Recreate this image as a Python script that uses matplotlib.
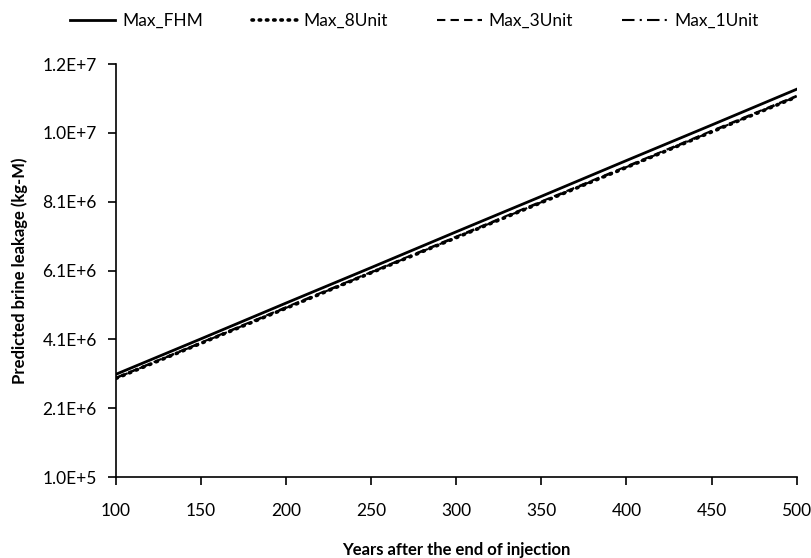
import matplotlib
matplotlib.use('Agg')
import matplotlib.pyplot as plt
import numpy as np
from matplotlib.ticker import FixedLocator, FuncFormatter

plt.rcParams['font.family'] = ['Lato', 'DejaVu Sans']

# 数据
years = [100, 150, 200, 250, 300, 350, 400, 450, 500]
max_fhm = [3.09e6, 4.12e6, 5.16e6, 6.19e6, 7.23e6, 8.26e6, 9.30e6, 10.33e6, 11.37e6]
max_8unit = [2.97e6, 3.99e6, 5.01e6, 6.04e6, 7.06e6, 8.08e6, 9.10e6, 10.13e6, 11.15e6]
max_3unit = [2.99e6, 4.01e6, 5.04e6, 6.06e6, 7.09e6, 8.11e6, 9.13e6, 10.16e6, 11.18e6]
max_1unit = [2.98e6, 4.00e6, 5.02e6, 6.05e6, 7.07e6, 8.09e6, 9.11e6, 10.14e6, 11.16e6]

y_ticks = [1.0e5, 2.1e6, 4.1e6, 6.1e6, 8.1e6, 10.1e6, 12.1e6]
x_ticks = [100, 150, 200, 250, 300, 350, 400, 450, 500]

TICK_FONTSIZE = 12.5
LABEL_FONTSIZE = 12


def sci_fmt(v, pos):
    m, e = f'{v:.1E}'.split('E')
    return f'{m}E+{int(e)}'


fig = plt.figure(figsize=(8.12, 5.58), dpi=100)
ax = fig.add_axes([0.143, 0.145, 0.838, 0.740])

ax.plot(years, max_fhm, color='black', lw=2.0, ls='-', label='Max_FHM')
ax.plot(years, max_8unit, color='black', lw=2.6, ls=(0, (0.4, 1.6)),
        dash_capstyle='round', label='Max_8Unit')
ax.plot(years, max_3unit, color='black', lw=1.5, ls=(0, (4, 2.5)), label='Max_3Unit')
ax.plot(years, max_1unit, color='black', lw=1.5, ls=(0, (6, 2.5, 1, 2.5)), label='Max_1Unit')

ax.set_xlim(100, 500)
ax.set_ylim(1.0e5, 12.1e6)
ax.xaxis.set_major_locator(FixedLocator(x_ticks))
ax.yaxis.set_major_locator(FixedLocator(y_ticks))
ax.yaxis.set_major_formatter(FuncFormatter(sci_fmt))

for side in ['top', 'right']:
    ax.spines[side].set_visible(False)
for side in ['left', 'bottom']:
    ax.spines[side].set_linewidth(1.2)
ax.tick_params(direction='out', length=6, width=1.2, labelsize=TICK_FONTSIZE, pad=8)
ax.tick_params(axis='x', pad=13)

ax.set_xlabel('Years after the end of injection', fontsize=LABEL_FONTSIZE,
              fontweight='bold', labelpad=16)
ax.set_ylabel('Predicted brine leakage (kg-M)', fontsize=LABEL_FONTSIZE,
              fontweight='bold', labelpad=10)

fig.legend(loc='upper center', bbox_to_anchor=(0.51, 1.005), ncol=4, frameon=False,
           fontsize=TICK_FONTSIZE, handlelength=2.6, columnspacing=2.8, handletextpad=0.4)

plt.savefig('out.png', dpi=100)
plt.close()
